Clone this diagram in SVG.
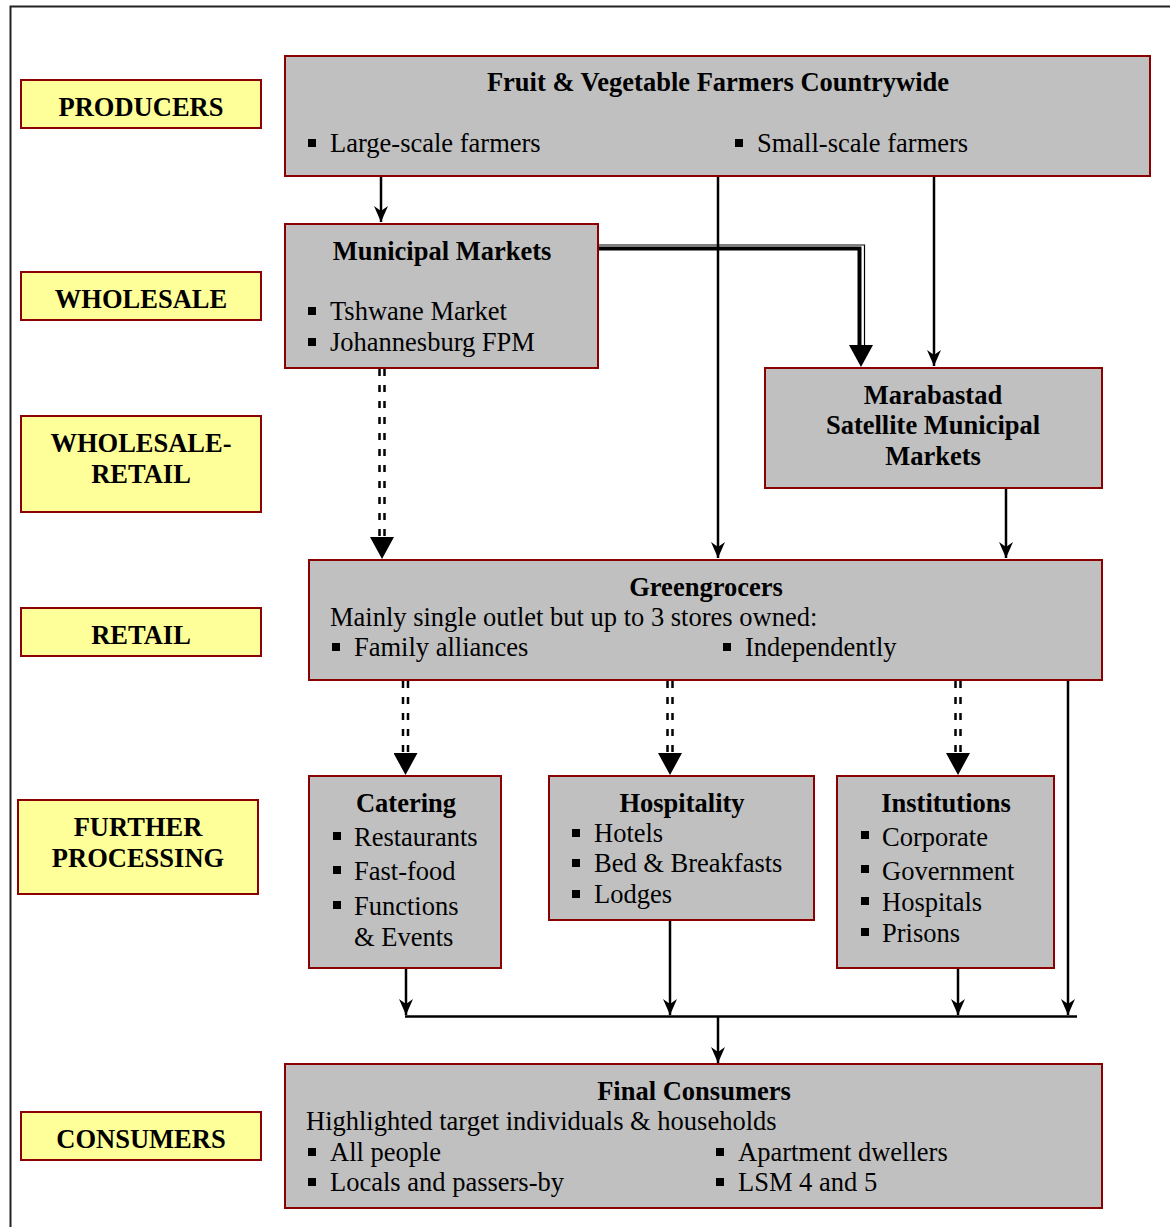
<svg xmlns="http://www.w3.org/2000/svg" width="1170" height="1227" viewBox="0 0 1170 1227">
<style>
text{font-family:"Liberation Serif","Times New Roman",serif;font-size:26.5px;fill:#000}
.b{font-weight:bold}
.c{text-anchor:middle}
.lab{fill:#FFFF99;stroke:#8B0000;stroke-width:2}
.box{fill:#C0C0C0;stroke:#8B0000;stroke-width:2}
.ln{fill:none;stroke:#000;stroke-width:2.5}
.dash{fill:none;stroke:#000;stroke-width:2.5;stroke-dasharray:7 9}
.big{fill:none;stroke:none;marker-end:url(#bigArrow)}
.sm{fill:none;stroke:#000;stroke-width:2.5;marker-end:url(#smArrow)}
.bul{fill:#000}
</style>
<defs>
<marker id="smArrow" viewBox="0 0 16 14" refX="16" refY="7" markerWidth="16" markerHeight="14" markerUnits="userSpaceOnUse" orient="auto">
<path d="M0,0 L16,7 L0,14 L5,7 z" fill="#000"/>
</marker>
<marker id="bigArrow" viewBox="0 0 22 24" refX="22" refY="12" markerWidth="22" markerHeight="24" markerUnits="userSpaceOnUse" orient="auto">
<path d="M0,0 L22,12 L0,24 z" fill="#000"/>
</marker>
</defs>
<rect x="10.5" y="6.5" width="1200" height="1300" fill="#fff" stroke="#222" stroke-width="2"/>

<g id="connectors">
<path class="sm" d="M381,176 V222"/>
<path class="sm" d="M718,176 V558"/>
<path class="sm" d="M934,176 V366"/>
<path d="M598,245 H864.5 V348" fill="none" stroke="#000" stroke-width="1.2"/>
<path d="M598,248.5 H859.5 V348" fill="none" stroke="#000" stroke-width="4"/>
<path class="big" d="M861,300 V367"/>
<path class="dash" d="M379.5,369 V540"/>
<path class="dash" d="M384.5,369 V540"/>
<path class="big" d="M382,500 V559"/>
<path class="sm" d="M1006,488 V558"/>
<path class="dash" d="M403,681 V756"/>
<path class="dash" d="M408,681 V756"/>
<path class="big" d="M405.5,720 V775"/>
<path class="dash" d="M667.5,681 V756"/>
<path class="dash" d="M672.5,681 V756"/>
<path class="big" d="M670,720 V775"/>
<path class="dash" d="M955.5,681 V756"/>
<path class="dash" d="M960.5,681 V756"/>
<path class="big" d="M958,720 V775"/>
<path class="sm" d="M1068,680 V1015"/>
<path class="sm" d="M406,968 V1015"/>
<path class="sm" d="M670,920 V1015"/>
<path class="sm" d="M958,968 V1015"/>
<path class="ln" d="M405,1016.5 H1077"/>
<path class="sm" d="M718,1016 V1063"/>
</g>

<g id="label-producers">
<rect class="lab" x="21" y="80" width="240" height="48"/>
<text class="b c" x="141" y="116">PRODUCERS</text>
</g>
<g id="label-wholesale">
<rect class="lab" x="21" y="272" width="240" height="48"/>
<text class="b c" x="141" y="308">WHOLESALE</text>
</g>
<g id="label-wholesale-retail">
<rect class="lab" x="21" y="416" width="240" height="96"/>
<text class="b c" x="141" y="452">WHOLESALE-</text>
<text class="b c" x="141" y="483">RETAIL</text>
</g>
<g id="label-retail">
<rect class="lab" x="21" y="608" width="240" height="48"/>
<text class="b c" x="141" y="644">RETAIL</text>
</g>
<g id="label-further">
<rect class="lab" x="18" y="800" width="240" height="94"/>
<text class="b c" x="138" y="836">FURTHER</text>
<text class="b c" x="138" y="867">PROCESSING</text>
</g>
<g id="label-consumers">
<rect class="lab" x="21" y="1112" width="240" height="48"/>
<text class="b c" x="141" y="1148">CONSUMERS</text>
</g>

<g id="farmers">
<rect class="box" x="285" y="56" width="865" height="120"/>
<text class="b c" x="718" y="91">Fruit &amp; Vegetable Farmers Countrywide</text>
<rect class="bul" x="308" y="139" width="8" height="8"/>
<text x="330" y="152">Large-scale farmers</text>
<rect class="bul" x="735" y="139" width="8" height="8"/>
<text x="757" y="152">Small-scale farmers</text>
</g>

<g id="municipal">
<rect class="box" x="285" y="224" width="313" height="144"/>
<text class="b c" x="442" y="260">Municipal Markets</text>
<rect class="bul" x="308" y="307" width="8" height="8"/>
<text x="330" y="320">Tshwane Market</text>
<rect class="bul" x="308" y="338" width="8" height="8"/>
<text x="330" y="351">Johannesburg FPM</text>
</g>

<g id="marabastad">
<rect class="box" x="765" y="368" width="337" height="120"/>
<text class="b c" x="933" y="404">Marabastad</text>
<text class="b c" x="933" y="434">Satellite Municipal</text>
<text class="b c" x="933" y="465">Markets</text>
</g>

<g id="greengrocers">
<rect class="box" x="309" y="560" width="793" height="120"/>
<text class="b c" x="706" y="596">Greengrocers</text>
<text x="330" y="626">Mainly single outlet but up to 3 stores owned:</text>
<rect class="bul" x="332" y="643" width="8" height="8"/>
<text x="354" y="656">Family alliances</text>
<rect class="bul" x="723" y="643" width="8" height="8"/>
<text x="745" y="656">Independently</text>
</g>

<g id="catering">
<rect class="box" x="309" y="776" width="192" height="192"/>
<text class="b c" x="406" y="812">Catering</text>
<rect class="bul" x="333" y="832" width="8" height="8"/>
<text x="354" y="846">Restaurants</text>
<rect class="bul" x="333" y="866" width="8" height="8"/>
<text x="354" y="880">Fast-food</text>
<rect class="bul" x="333" y="901" width="8" height="8"/>
<text x="354" y="915">Functions</text>
<text x="354" y="946">&amp; Events</text>
</g>

<g id="hospitality">
<rect class="box" x="549" y="776" width="265" height="144"/>
<text class="b c" x="682" y="812">Hospitality</text>
<rect class="bul" x="572" y="829" width="8" height="8"/>
<text x="594" y="842">Hotels</text>
<rect class="bul" x="572" y="859" width="8" height="8"/>
<text x="594" y="872">Bed &amp; Breakfasts</text>
<rect class="bul" x="572" y="890" width="8" height="8"/>
<text x="594" y="903">Lodges</text>
</g>

<g id="institutions">
<rect class="box" x="837" y="776" width="217" height="192"/>
<text class="b c" x="946" y="812">Institutions</text>
<rect class="bul" x="861" y="831" width="8" height="8"/>
<text x="882" y="846">Corporate</text>
<rect class="bul" x="861" y="865" width="8" height="8"/>
<text x="882" y="880">Government</text>
<rect class="bul" x="861" y="897" width="8" height="8"/>
<text x="882" y="911">Hospitals</text>
<rect class="bul" x="861" y="928" width="8" height="8"/>
<text x="882" y="942">Prisons</text>
</g>

<g id="consumers">
<rect class="box" x="285" y="1064" width="817" height="144"/>
<text class="b c" x="694" y="1100">Final Consumers</text>
<text x="306" y="1130">Highlighted target individuals &amp; households</text>
<rect class="bul" x="308" y="1148" width="8" height="8"/>
<text x="330" y="1161">All people</text>
<rect class="bul" x="308" y="1178" width="8" height="8"/>
<text x="330" y="1191">Locals and passers-by</text>
<rect class="bul" x="716" y="1148" width="8" height="8"/>
<text x="738" y="1161">Apartment dwellers</text>
<rect class="bul" x="716" y="1178" width="8" height="8"/>
<text x="738" y="1191">LSM 4 and 5</text>
</g>
</svg>
